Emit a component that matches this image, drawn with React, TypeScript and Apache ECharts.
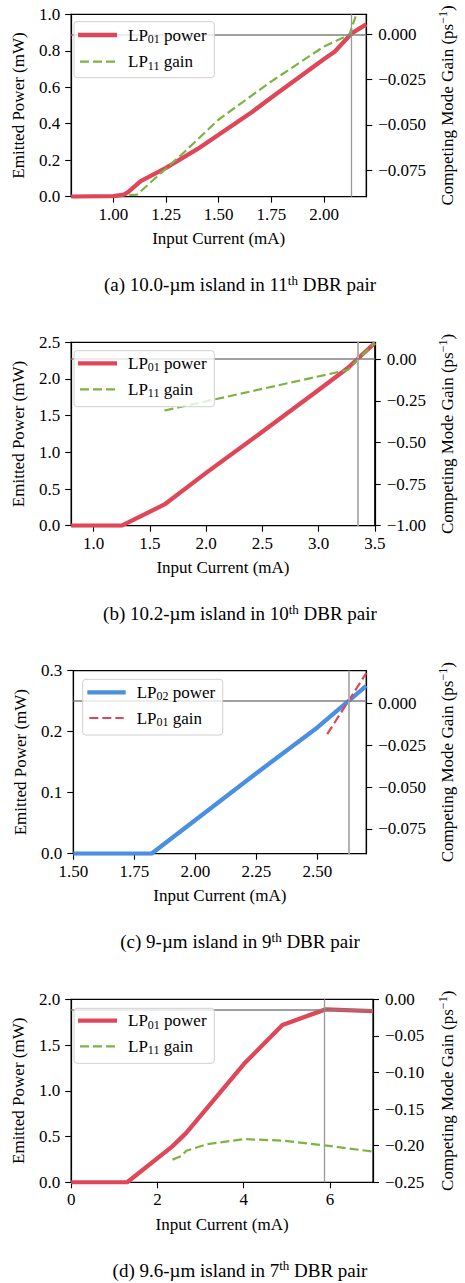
import React, { useEffect, useRef } from 'react';
import * as echarts from 'echarts';

const FONT = 'Liberation Serif';

// ---------- Panel (a) ----------
const aPowerCurrent = [0.8, 1.0, 1.05, 1.07, 1.13, 1.25, 1.4, 1.66, 1.75, 2.0, 2.05, 2.13, 2.2];
const aPower = [0, 0.003, 0.012, 0.025, 0.085, 0.158, 0.262, 0.466, 0.544, 0.755, 0.795, 0.895, 0.945];
const aGainCurrent = [1.075, 1.112, 1.25, 1.34, 1.5, 1.75, 2.0, 2.12, 2.14, 2.15];
const aGain = [-0.0887, -0.0884, -0.074, -0.0646, -0.047, -0.026, -0.0068, -0.0004, 0.0066, 0.0097];
const aCurrentTicks = [1.0, 1.25, 1.5, 1.75, 2.0];
const aPowerTicks = [0, 0.2, 0.4, 0.6, 0.8, 1.0];
const aGainTicks = [-0.075, -0.05, -0.025, 0];
const aCross = { current: 2.127, power: 0.89 };

// ---------- Panel (b) ----------
const bPowerCurrent = [0.8, 1.25, 1.63, 2.0, 2.5, 3.0, 3.26, 3.5];
const bPower = [0, 0, 0.29, 0.72, 1.28, 1.85, 2.15, 2.49];
const bGainCurrent = [1.63, 3.26, 3.5];
const bGain = [-0.308, -0.064, 0.1];
const bCurrentTicks = [1.0, 1.5, 2.0, 2.5, 3.0, 3.5];
const bPowerTicks = [0, 0.5, 1.0, 1.5, 2.0, 2.5];
const bGainTicks = [-1.0, -0.75, -0.5, -0.25, 0];
const bCross = { current: 3.349, power: 2.27 };

// ---------- Panel (c) ----------
const cPowerCurrent = [1.5, 1.82, 2.25, 2.5, 2.7];
const cPower = [0, 0, 0.132, 0.207, 0.275];
const cGainCurrent = [2.54, 2.7];
const cGain = [-0.0183, 0.0182];
const cCurrentTicks = [1.5, 1.75, 2.0, 2.25, 2.5];
const cPowerTicks = [0, 0.1, 0.2, 0.3];
const cGainTicks = [-0.075, -0.05, -0.025, 0];
const cCross = { current: 2.627, power: 0.246 };

// ---------- Panel (d) ----------
const dPowerCurrent = [0, 1.3, 2.34, 2.67, 4.0, 4.9, 5.9, 7.0];
const dPower = [0, 0, 0.39, 0.54, 1.29, 1.72, 1.89, 1.87];
const dGainCurrent = [2.35, 2.56, 2.67, 3.15, 4.0, 4.9, 5.93, 7.0];
const dGain = [-0.219, -0.214, -0.207, -0.198, -0.191, -0.193, -0.2, -0.208];
const dCurrentTicks = [0, 2, 4, 6];
const dPowerTicks = [0, 0.5, 1.0, 1.5, 2.0];
const dGainTicks = [-0.25, -0.2, -0.15, -0.1, -0.05, 0];
const dCross = { current: 5.88, power: 1.894 };

const RED = '#df4758';
const GREEN = '#7cb342';
const BLUE = '#4a8fe0';

const zip = (xs: number[], ys: number[]) => xs.map((x, i) => [x, ys[i]]);
const fmt = (dec: number) => (v: number) => {
  const s = Math.abs(v).toFixed(dec);
  return v < -1e-12 ? '\u2212' + s : s;
};

const panels = [
  {
    grid: { left: 65, top: 14.3, width: 314.3, height: 182.4 },
    xRange: [0.8, 2.2], xTicks: aCurrentTicks, xDec: 2,
    pRange: [0, 1.0], pTicks: aPowerTicks, pDec: 1,
    gRange: [-0.0895, 0.0109], gTicks: aGainTicks, gDec: 3,
    power: zip(aPowerCurrent, aPower), gain: zip(aGainCurrent, aGain),
    pColor: RED, gColor: GREEN, cross: aCross, vColor: '#999999', vWidth: 1.3,
    pLabel: 'LP{sub|01} power', gLabel: 'LP{sub|11} gain',
    legend: { x: 74, y: 21.7, w: 140.3, h: 56, rows: [35, 61.7], l1: 78, l2: 117, tx: 128 },
    caption: '(a) 10.0-\u00b5m island in 11{sup|th} DBR pair', rightGap: 69,
  },
  {
    grid: { left: 65, top: 342.3, width: 322.7, height: 183.4 },
    xRange: [0.8, 3.5], xTicks: bCurrentTicks, xDec: 1,
    pRange: [0, 2.5], pTicks: bPowerTicks, pDec: 1,
    gRange: [-1.0, 0.102], gTicks: bGainTicks, gDec: 2,
    power: zip(bPowerCurrent, bPower), gain: zip(bGainCurrent, bGain),
    pColor: RED, gColor: GREEN, cross: bCross, vColor: '#b3b3b3', vWidth: 2,
    pLabel: 'LP{sub|01} power', gLabel: 'LP{sub|11} gain',
    legend: { x: 74, y: 350.7, w: 140.3, h: 56, rows: [363.3, 389.3], l1: 78, l2: 117, tx: 128 },
    caption: '(b) 10.2-\u00b5m island in 10{sup|th} DBR pair', rightGap: 62,
  },
  {
    grid: { left: 73.3, top: 670.7, width: 305.7, height: 183 },
    xRange: [1.5, 2.7], xTicks: cCurrentTicks, xDec: 2,
    pRange: [0, 0.3], pTicks: cPowerTicks, pDec: 1,
    gRange: [-0.0898, 0.0197], gTicks: cGainTicks, gDec: 3,
    power: zip(cPowerCurrent, cPower), gain: zip(cGainCurrent, cGain),
    pColor: BLUE, gColor: RED, cross: cCross, vColor: '#b3b3b3', vWidth: 2,
    pLabel: 'LP{sub|02} power', gLabel: 'LP{sub|01} gain',
    legend: { x: 82.7, y: 679.3, w: 140, h: 55.7, rows: [692.3, 718], l1: 87.3, l2: 125.7, tx: 136.7 },
    caption: '(c) 9-\u00b5m island in 9{sup|th} DBR pair', rightGap: 70.5,
  },
  {
    grid: { left: 65, top: 999.3, width: 314, height: 183 },
    xRange: [0, 7], xTicks: dCurrentTicks, xDec: 0,
    pRange: [0, 2.0], pTicks: dPowerTicks, pDec: 1,
    gRange: [-0.25, 0], gTicks: dGainTicks, gDec: 2,
    power: zip(dPowerCurrent, dPower), gain: zip(dGainCurrent, dGain),
    pColor: RED, gColor: GREEN, cross: dCross, vColor: '#999999', vWidth: 1.3,
    pLabel: 'LP{sub|01} power', gLabel: 'LP{sub|11} gain',
    legend: { x: 74, y: 1008.3, w: 140.3, h: 55, rows: [1020.7, 1046.3], l1: 78, l2: 117, tx: 128 },
    caption: '(d) 9.6-\u00b5m island in 7{sup|th} DBR pair', rightGap: 64,
  },
];

const richSub = { sub: { fontFamily: FONT, fontSize: 12, lineHeight: 12, verticalAlign: 'bottom', fill: '#000', color: '#000' } };
const richSup = { sup: { fontFamily: FONT, fontSize: 12, lineHeight: 12, verticalAlign: 'top', fill: '#000', color: '#000' } };
const richCaption = { sup: { fontFamily: FONT, fontSize: 13, lineHeight: 13, verticalAlign: 'top', fill: '#000', color: '#000' } };

function buildOption() {
  const grid: any[] = [];
  const xAxis: any[] = [];
  const yAxis: any[] = [];
  const series: any[] = [];
  const graphic: any[] = [];

  const axisCommon = {
    type: 'value',
    splitLine: { show: false },
    axisLine: { show: true, onZero: false, lineStyle: { color: '#000', width: 1.2 } },
    axisTick: { show: true, inside: false, length: 6, lineStyle: { color: '#000', width: 1.1 } },
    nameLocation: 'middle',
    nameTextStyle: { fontFamily: FONT, fontSize: 17, color: '#000', lineHeight: 20, rich: richSup },
  };
  const labelStyle = { fontFamily: FONT, fontSize: 17, color: '#000' };

  panels.forEach((p, i) => {
    grid.push({ ...p.grid, show: true, borderColor: '#000', borderWidth: 1.2, backgroundColor: 'transparent', containLabel: false });
    xAxis.push({
      ...axisCommon,
      gridIndex: i,
      min: p.xRange[0], max: p.xRange[1],
      name: 'Input Current (mA)', nameGap: 32,
      axisLabel: { ...labelStyle, margin: 9, customValues: p.xTicks, formatter: fmt(p.xDec) },
      axisTick: { ...axisCommon.axisTick, customValues: p.xTicks },
    });
    yAxis.push({
      ...axisCommon,
      gridIndex: i, position: 'left',
      min: p.pRange[0], max: p.pRange[1],
      name: 'Emitted Power (mW)', nameGap: 39.5,
      axisLabel: { ...labelStyle, margin: 11, customValues: p.pTicks, formatter: fmt(p.pDec) },
      axisTick: { ...axisCommon.axisTick, customValues: p.pTicks },
    });
    yAxis.push({
      ...axisCommon,
      gridIndex: i, position: 'right',
      min: p.gRange[0], max: p.gRange[1],
      name: 'Competing Mode Gain (ps{sup|\u22121})', nameGap: p.rightGap,
      axisLabel: { ...labelStyle, margin: 12, customValues: p.gTicks, formatter: fmt(p.gDec) },
      axisTick: { ...axisCommon.axisTick, customValues: p.gTicks },
    });
    series.push({
      type: 'line', xAxisIndex: i, yAxisIndex: 2 * i, data: p.power,
      showSymbol: false, symbol: 'none', z: 2, clip: true,
      lineStyle: { color: p.pColor, width: 4.3, join: 'round', cap: 'butt' },
      markLine: {
        silent: true, symbol: ['none', 'none'], label: { show: false }, animation: false,
        data: [
          { xAxis: p.cross.current, lineStyle: { color: p.vColor, width: p.vWidth, type: 'solid' } },
          { yAxis: p.cross.power, lineStyle: { color: '#808080', width: 1.6, type: 'solid' } },
        ],
      },
    });
    series.push({
      type: 'line', xAxisIndex: i, yAxisIndex: 2 * i + 1, data: p.gain,
      showSymbol: false, symbol: 'none', z: 3, clip: true,
      lineStyle: { color: p.gColor, width: 2.2, type: [9, 4], join: 'round', cap: 'butt' },
    });

    const L = p.legend;
    graphic.push({ type: 'rect', z: 100, shape: { x: L.x, y: L.y, width: L.w, height: L.h, r: 3 },
      style: { fill: 'rgba(255,255,255,0.8)', stroke: '#d0d0d0', lineWidth: 1 } });
    graphic.push({ type: 'line', z: 101, shape: { x1: L.l1, y1: L.rows[0], x2: L.l2, y2: L.rows[0] },
      style: { stroke: p.pColor, lineWidth: 4.3 } });
    graphic.push({ type: 'line', z: 101, shape: { x1: L.l1 + 2, y1: L.rows[1], x2: L.l2 - 2, y2: L.rows[1] },
      style: { stroke: p.gColor, lineWidth: 2.2, lineDash: [9, 4] } });
    [p.pLabel, p.gLabel].forEach((t, k) => {
      graphic.push({ type: 'text', z: 101, x: L.tx, y: L.rows[k],
        style: { text: t, fontFamily: FONT, fontSize: 17, lineHeight: 20, fill: '#000', verticalAlign: 'middle', align: 'left', rich: richSub } });
    });
    graphic.push({ type: 'text', z: 101, x: 240, y: p.grid.top + p.grid.height + 88,
      style: { text: p.caption, fontFamily: FONT, fontSize: 19, lineHeight: 22, fill: '#000', verticalAlign: 'middle', align: 'center', rich: richCaption } });
  });

  return {
    animation: false,
    backgroundColor: '#ffffff',
    textStyle: { fontFamily: FONT },
    grid, xAxis, yAxis, series, graphic,
  };
}

export default function App() {
  const ref = useRef<HTMLDivElement>(null);
  useEffect(() => {
    const chart = echarts.init(ref.current!, null, { renderer: 'svg' });
    chart.setOption(buildOption() as any);
    return () => chart.dispose();
  }, []);
  return (
    <div
      ref={ref}
      style={{ position: 'absolute', left: 0, top: 0, width: 465, height: 1283, background: '#fff' }}
    />
  );
}
